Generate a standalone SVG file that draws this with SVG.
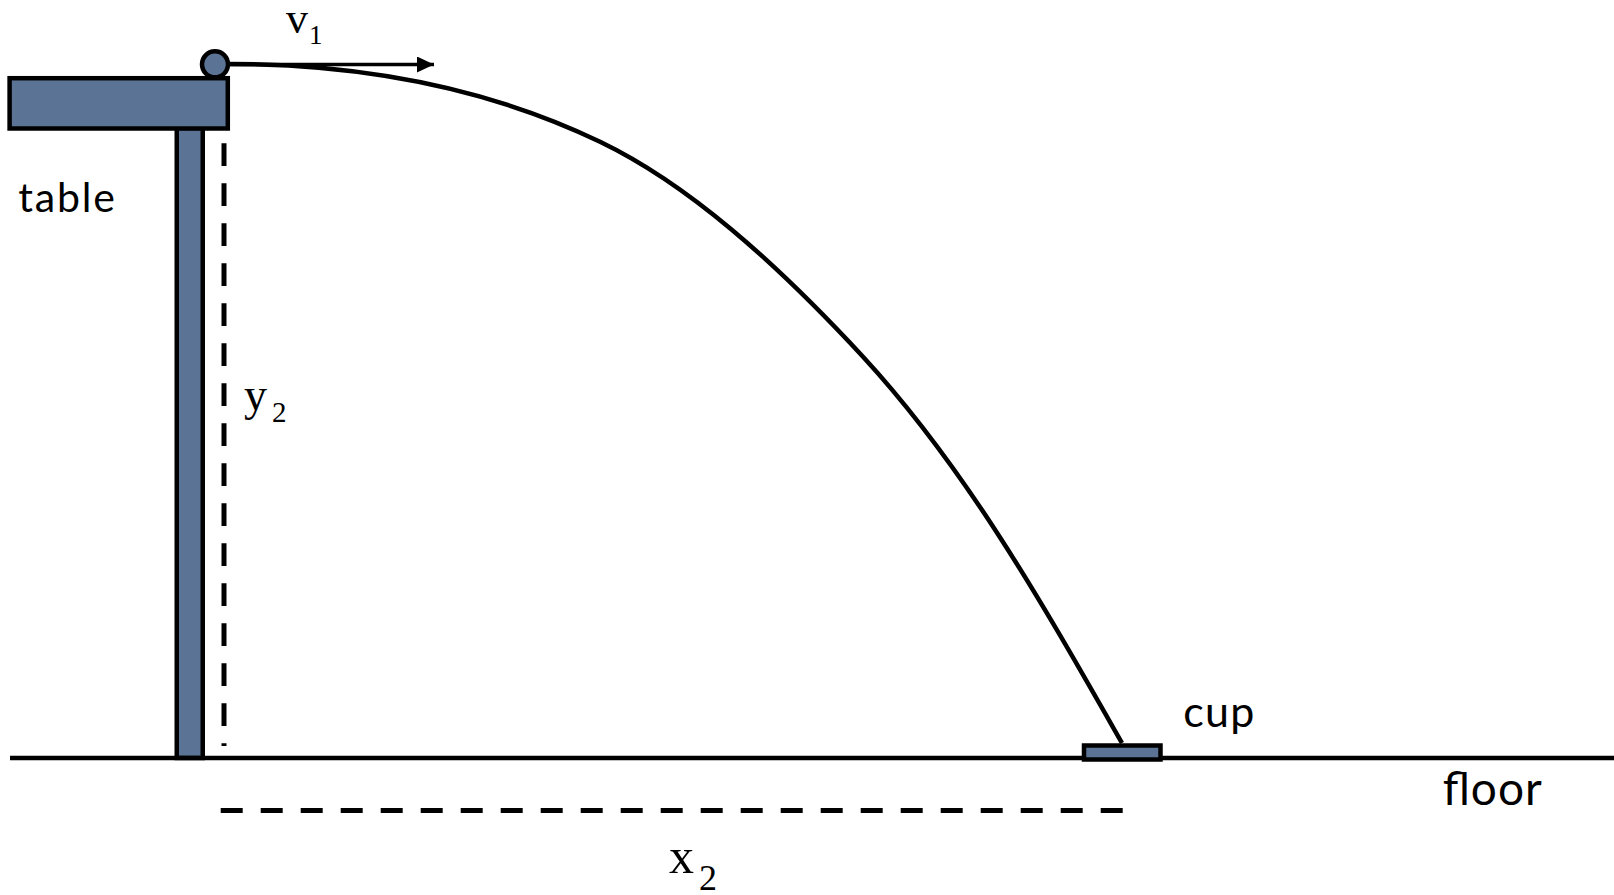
<svg xmlns="http://www.w3.org/2000/svg" width="1614" height="895" viewBox="0 0 1614 895">
  <style>
    .solid { fill: #5b7394; stroke: #000; stroke-width: 4.5; }
    .line { fill: none; stroke: #000; stroke-width: 4.5; }
    .dash { fill: none; stroke: #000; stroke-width: 5; }
    .sans { font-family: Lato, "Open Sans", "Liberation Sans", sans-serif; fill: #000; }
    .serif { font-family: "Liberation Serif", "Times New Roman", serif; fill: #000; }
  </style>
  <defs>
    <marker id="arrow" markerUnits="userSpaceOnUse" markerWidth="18" markerHeight="18" refX="17" refY="8" orient="auto">
      <polygon points="0,0 17,8 0,16" fill="#000"/>
    </marker>
  </defs>
  <rect width="1614" height="895" fill="#fff"/>

  <g id="table">
    <rect class="solid" x="176.75" y="128" width="26" height="630"/>
    <rect class="solid" x="9.6" y="78.2" width="218.2" height="50.3"/>
    <text class="sans" x="18.3" y="211.7" font-size="41" textLength="96.7">table</text>
  </g>

  <g id="ball">
    <circle class="solid" cx="215" cy="64.3" r="13" stroke-width="4"/>
  </g>

  <g id="floor">
    <line class="line" x1="10" y1="758" x2="1614" y2="758" stroke-width="5"/>
    <text class="sans" x="1442.7" y="805" font-size="46" textLength="99">floor</text>
  </g>

  <g id="cup">
    <rect class="solid" x="1084" y="745.5" width="76.5" height="14"/>
    <text class="sans" x="1183.3" y="727" font-size="43" textLength="71">cup</text>
  </g>

  <g id="connectors">
    <path id="trajectory" class="line" d="M229,64 C379,64 500,93.7 600,141.7 C688,184 775,261.7 863,356.7 C968,470.7 1045,608 1122,743"/>
    <line id="velocity" x1="228" y1="64.5" x2="434" y2="64.5" stroke="#000" stroke-width="3.5" marker-end="url(#arrow)"/>
    <line id="height-dim" class="dash" x1="224" y1="143.3" x2="224" y2="746" stroke-dasharray="22.7 17.3"/>
    <line id="distance-dim" class="dash" x1="220.7" y1="810.5" x2="1122.7" y2="810.5" stroke-width="4.5" stroke-dasharray="22 18"/>
  </g>

  <g id="labels">
    <text class="serif" x="286" y="32.7" font-size="44">v<tspan font-size="27" x="309" y="44.3">1</tspan></text>
    <text class="serif" x="244" y="410" font-size="46">y<tspan font-size="29" x="272" y="422">2</tspan></text>
    <text class="serif" x="669" y="873.3" font-size="50">x<tspan font-size="36" x="699" y="890">2</tspan></text>
  </g>
</svg>
